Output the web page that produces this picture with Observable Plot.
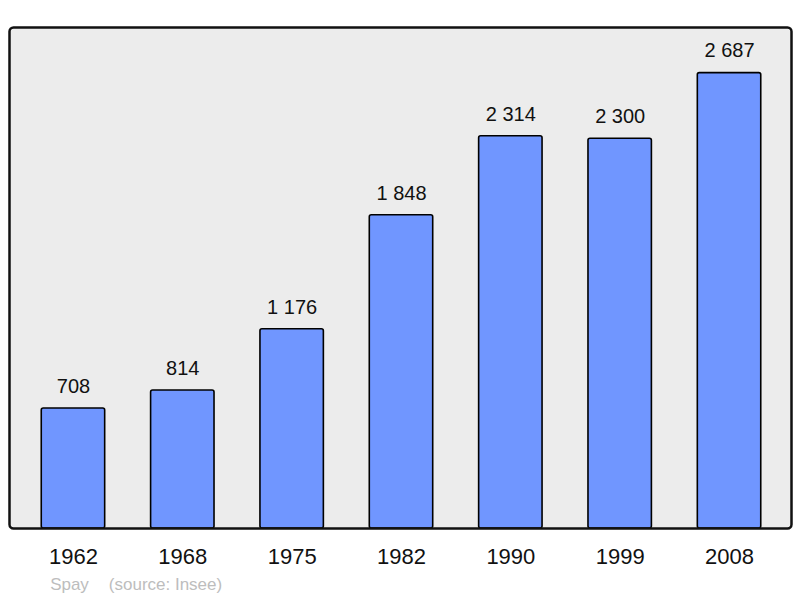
<!DOCTYPE html>
<html>
<head>
<meta charset="utf-8">
<script src="https://cdn.jsdelivr.net/npm/d3@7"></script>
<script src="https://cdn.jsdelivr.net/npm/@observablehq/plot@0.6"></script>
<style>
  html, body { margin: 0; padding: 0; background: #ffffff; }
  #chart svg { display: block; }
</style>
</head>
<body>
<div id="chart"></div>
<script>
const years = ["1962", "1968", "1975", "1982", "1990", "1999", "2008"];
const population = [708, 814, 1176, 1848, 2314, 2300, 2687];
const commune = "Spay";
const source = "(source: Insee)";

const fmt = d3.formatLocale({decimal: ",", thousands: " ", grouping: [3], currency: ["", " €"]}).format(",d");
const data = years.map((y, i) => ({year: y, pop: population[i], label: fmt(population[i])}));

const chart = Plot.plot({
  width: 800,
  height: 598,
  marginTop: 27,
  marginBottom: 70,
  marginLeft: 9,
  marginRight: 9,
  style: {fontFamily: "'Liberation Sans', Arial, sans-serif", background: "#ffffff", overflow: "visible"},
  x: {domain: years, range: [9, 793], round: false, paddingInner: 0.42, paddingOuter: 0.295, label: null},
  y: {domain: [0, 2956], axis: null},
  marks: [
    Plot.frame({fill: "#ececec", stroke: "none", rx: 4}),
    Plot.barY(data, {x: "year", y: "pop", fill: "#7096ff", stroke: "#000", strokeWidth: 1.6, rx: 2}),
    Plot.text(data, {x: "year", y: "pop", text: "label", dy: -22, fontSize: 20, fill: "#111"}),
    Plot.frame({fill: "none", stroke: "#111", strokeWidth: 2.5, rx: 4}),
    Plot.axisX({tickSize: 0, tickPadding: 20, fontSize: 22, color: "#111"}),
    Plot.text([commune], {frameAnchor: "bottom-left", dx: 60, dy: 56, fontSize: 17, fill: "#bdbdbd", textAnchor: "middle", lineAnchor: "middle"}),
    Plot.text([source], {frameAnchor: "bottom-left", dx: 156, dy: 56, fontSize: 17, fill: "#bdbdbd", textAnchor: "middle", lineAnchor: "middle"})
  ]
});
document.getElementById("chart").appendChild(chart);
</script>
</body>
</html>
